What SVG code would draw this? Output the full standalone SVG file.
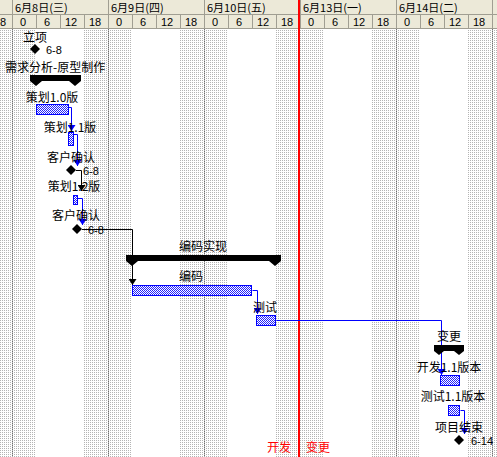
<svg xmlns="http://www.w3.org/2000/svg" width="497" height="457" viewBox="0 0 497 457">
<style>
text{font-family:"Noto Sans CJK SC","Noto Sans CJK JP",sans-serif;font-size:12px;fill:#000;dominant-baseline:central}
.c{text-anchor:middle}
.h1{font-size:11px}
.h2{font-family:"Liberation Sans",sans-serif;font-size:11px;text-anchor:middle}
.d{font-family:"Liberation Sans",sans-serif;font-size:11px}
.red{fill:#ff0000}
.bar{fill:url(#hatch);stroke:#0000ff;stroke-width:1}
.blue{fill:none;stroke:#0000ff;stroke-width:1}
.blk{fill:none;stroke:#000;stroke-width:1}
.hl{stroke:#a09e92;stroke-width:1}
</style>
<defs>
<pattern id="dots" width="2" height="2" patternUnits="userSpaceOnUse">
<rect width="2" height="2" fill="#fff"/>
<rect width="1" height="1" fill="#b4b4b4"/>
</pattern>
<pattern id="hatch" width="2" height="2" patternUnits="userSpaceOnUse">
<rect width="2" height="2" fill="#fff"/>
<rect width="1" height="1" fill="#2020ff"/>
<rect x="1" y="1" width="1" height="1" fill="#2020ff"/>
</pattern>
<marker id="ab" viewBox="0 0 8 6" refX="4" refY="6" markerWidth="8" markerHeight="6" markerUnits="userSpaceOnUse" orient="0">
<path d="M0,0 H8 L4,6 Z" fill="#0000ff"/>
</marker>
<marker id="ak" viewBox="0 0 8 6" refX="4" refY="6" markerWidth="8" markerHeight="6" markerUnits="userSpaceOnUse" orient="0">
<path d="M0,0 H8 L4,6 Z" fill="#000"/>
</marker>
</defs>
<g id="background">
<rect x="0" y="29" width="497" height="428" fill="#fff"/>
<rect x="0" y="29" width="36" height="428" fill="url(#dots)"/>
<rect x="84" y="29" width="48" height="428" fill="url(#dots)"/>
<rect x="180" y="29" width="48" height="428" fill="url(#dots)"/>
<rect x="276" y="29" width="48" height="428" fill="url(#dots)"/>
<rect x="372" y="29" width="48" height="428" fill="url(#dots)"/>
<rect x="468" y="29" width="29" height="428" fill="url(#dots)"/>
<g stroke="#707070" stroke-width="1" stroke-dasharray="1 1">
<line x1="12.5" y1="29" x2="12.5" y2="457"/>
<line x1="108.5" y1="29" x2="108.5" y2="457"/>
<line x1="204.5" y1="29" x2="204.5" y2="457"/>
<line x1="396.5" y1="29" x2="396.5" y2="457"/>
<line x1="492.5" y1="29" x2="492.5" y2="457"/>
</g>
</g>
<g id="header">
<rect x="0" y="0" width="497" height="29" fill="#ece9d8"/>
<line class="hl" x1="0" y1="14.5" x2="497" y2="14.5"/>
<line class="hl" x1="0" y1="28.5" x2="497" y2="28.5"/>
<g class="hl">
<line x1="12.5" y1="0" x2="12.5" y2="29"/>
<line x1="108.5" y1="0" x2="108.5" y2="29"/>
<line x1="204.5" y1="0" x2="204.5" y2="29"/>
<line x1="300.5" y1="0" x2="300.5" y2="29"/>
<line x1="396.5" y1="0" x2="396.5" y2="29"/>
<line x1="492.5" y1="0" x2="492.5" y2="29"/>
<line x1="36.5" y1="15" x2="36.5" y2="29"/>
<line x1="60.5" y1="15" x2="60.5" y2="29"/>
<line x1="84.5" y1="15" x2="84.5" y2="29"/>
<line x1="132.5" y1="15" x2="132.5" y2="29"/>
<line x1="156.5" y1="15" x2="156.5" y2="29"/>
<line x1="180.5" y1="15" x2="180.5" y2="29"/>
<line x1="228.5" y1="15" x2="228.5" y2="29"/>
<line x1="252.5" y1="15" x2="252.5" y2="29"/>
<line x1="276.5" y1="15" x2="276.5" y2="29"/>
<line x1="324.5" y1="15" x2="324.5" y2="29"/>
<line x1="348.5" y1="15" x2="348.5" y2="29"/>
<line x1="372.5" y1="15" x2="372.5" y2="29"/>
<line x1="420.5" y1="15" x2="420.5" y2="29"/>
<line x1="444.5" y1="15" x2="444.5" y2="29"/>
<line x1="468.5" y1="15" x2="468.5" y2="29"/>
</g>
<text class="h1" x="15" y="7">6月8日(三)</text>
<text class="h1" x="111" y="7">6月9日(四)</text>
<text class="h1" x="207" y="7">6月10日(五)</text>
<text class="h1" x="303" y="7">6月13日(一)</text>
<text class="h1" x="399" y="7">6月14日(二)</text>
<text class="h2" x="0" y="22">18</text>
<text class="h2" x="23" y="22">0</text><text class="h2" x="47" y="22">6</text><text class="h2" x="71" y="22">12</text><text class="h2" x="95" y="22">18</text>
<text class="h2" x="119" y="22">0</text><text class="h2" x="143" y="22">6</text><text class="h2" x="167" y="22">12</text><text class="h2" x="191" y="22">18</text>
<text class="h2" x="215" y="22">0</text><text class="h2" x="239" y="22">6</text><text class="h2" x="263" y="22">12</text><text class="h2" x="287" y="22">18</text>
<text class="h2" x="311" y="22">0</text><text class="h2" x="335" y="22">6</text><text class="h2" x="359" y="22">12</text><text class="h2" x="383" y="22">18</text>
<text class="h2" x="407" y="22">0</text><text class="h2" x="431" y="22">6</text><text class="h2" x="455" y="22">12</text><text class="h2" x="479" y="22">18</text>
</g>
<g id="status-line">
<line x1="299" y1="0" x2="299" y2="457" stroke="#ff0000" stroke-width="2"/>
<text class="c red" x="279" y="446">开发</text>
<text class="c red" x="318" y="446">变更</text>
</g>
<g id="connectors">
<path class="blue" d="M68.5,107.5 H71.5 V131" marker-end="url(#ab)"/>
<path class="blue" d="M73.5,134.5 H77.5 V166" marker-end="url(#ab)"/>
<path class="blk" d="M76,170.5 H81.5 V191" marker-end="url(#ak)"/>
<path class="blue" d="M77.5,198.5 H82.5 V225" marker-end="url(#ab)"/>
<path class="blk" d="M82,229.5 H132.5 V285" marker-end="url(#ak)"/>
<path class="blue" d="M252.5,290.5 H257.5 V314" marker-end="url(#ab)"/>
<path class="blue" d="M276.5,320.5 H441.5 V375" marker-end="url(#ab)"/>
<path class="blue" d="M460.5,410.5 H464.5 V434" marker-end="url(#ab)"/>
</g>
<g id="n-lixiang">
<text class="c" x="35" y="36">立项</text>
<path d="M35,44 L40,49 L35,54 L30,49 Z"/>
<text class="d" x="46" y="49.5">6-8</text>
</g>
<g id="n-xuqiu">
<text x="5" y="66">需求分析-原型制作</text>
<path d="M30,75 H81 V81 L75,86 L69,81 H42 L36,86 L30,81 Z"/>
</g>
<g id="n-cehua10">
<text class="c" x="52" y="96">策划1.0版</text>
<rect class="bar" x="36.5" y="104.5" width="32" height="10"/>
</g>
<g id="n-cehua11">
<text class="c" x="70" y="126">策划1.1版</text>
<rect class="bar" x="68.5" y="132.5" width="5" height="13"/>
</g>
<g id="n-queren1">
<text class="c" x="71" y="156">客户确认</text>
<path d="M71,165 L76,170 L71,175 L66,170 Z"/>
<text class="d" x="83" y="170.5">6-8</text>
</g>
<g id="n-cehua12">
<text class="c" x="74" y="185">策划1.2版</text>
<rect class="bar" x="73.5" y="195.5" width="4" height="9"/>
</g>
<g id="n-queren2">
<text class="c" x="76" y="214">客户确认</text>
<path d="M77,224 L82,229 L77,234 L72,229 Z"/>
<text class="d" x="88" y="229.5">6-8</text>
</g>
<g id="n-bianmashixian">
<text class="c" x="203" y="245">编码实现</text>
<path d="M126,255 H281 V261 L275,266 L269,261 H138 L132,266 L126,261 Z"/>
</g>
<g id="n-bianma">
<text class="c" x="191" y="275">编码</text>
<rect class="bar" x="132.5" y="285.5" width="119" height="10"/>
</g>
<g id="n-ceshi">
<text class="c" x="265" y="306">测试</text>
<rect class="bar" x="256.5" y="315.5" width="19" height="10"/>
</g>
<g id="n-biangeng">
<text class="c" x="449" y="335">变更</text>
<path d="M434,345 H464 V351 L459,355 L454,351 H444 L439,355 L434,351 Z"/>
</g>
<g id="n-kaifa11">
<text class="c" x="449" y="366">开发1.1版本</text>
<rect class="bar" x="440.5" y="375.5" width="19" height="10"/>
</g>
<g id="n-ceshi11">
<text class="c" x="453" y="395">测试1.1版本</text>
<rect class="bar" x="448.5" y="405.5" width="11" height="10"/>
</g>
<g id="n-jieshu">
<text class="c" x="459" y="426">项目结束</text>
<path d="M459,435 L464,440 L459,445 L454,440 Z"/>
<text class="d" x="471" y="440.5">6-14</text>
</g>
</svg>
